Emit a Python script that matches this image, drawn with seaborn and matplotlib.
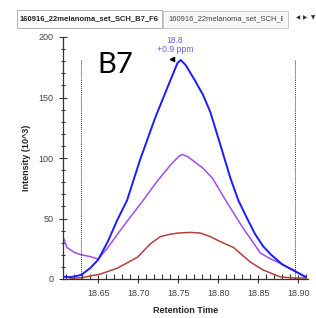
import matplotlib
matplotlib.use("Agg")
import matplotlib.pyplot as plt
import matplotlib.patches as mpatches
import numpy as np
import pandas as pd
import seaborn as sns

# retention time / intensity (10^3)
rt_blue = [18.606, 18.614, 18.620, 18.629, 18.640, 18.650, 18.662, 18.674, 18.686,
           18.702, 18.721, 18.7375, 18.749, 18.753, 18.759, 18.770, 18.781, 18.790,
           18.8025, 18.815, 18.825, 18.836, 18.846, 18.856, 18.866, 18.880, 18.894, 18.909]
blue = [2, 1.5, 2, 3.5, 9, 16, 31, 49, 65,
        98, 133, 160, 178.5, 181, 177, 165, 152, 138,
        111, 83.5, 65, 50, 37, 27, 20, 12, 7, 1.7]

rt_purple = [18.606, 18.611, 18.620, 18.629, 18.640, 18.650, 18.662, 18.674, 18.6875,
             18.705, 18.725, 18.740, 18.750, 18.755, 18.762, 18.780, 18.7925, 18.811,
             18.830, 18.8525, 18.864, 18.874, 18.894, 18.909]
purple = [35, 26, 22, 20, 18.5, 16.5, 26, 37, 49,
          64, 82, 94, 101, 103, 101, 92, 83.5, 63,
          43, 21.5, 17, 14, 7.4, 1.7]

rt_red = [18.615, 18.629, 18.640, 18.6525, 18.674, 18.699, 18.715, 18.7275, 18.740,
          18.750, 18.765, 18.7775, 18.790, 18.799, 18.819, 18.840, 18.856, 18.8775,
          18.895, 18.910]
red = [0.5, 1, 2.5, 4, 9, 18, 29, 35, 37,
       38, 38.5, 38, 35, 32, 26, 14, 7.4, 1.7,
       0.8, 0.8]

boundaries = [18.629, 18.896]
boundary_top = 181
peak_rt, peak_int = 18.742, 182
peak_label = "18.8\n+0.9 ppm"
tab_titles = ["160916_22melanoma_set_SCH_B7_F6", "160916_22melanoma_set_SCH_B7"]

sns.set_theme(style="ticks")
plt.rcParams["font.family"] = ["Liberation Sans", "DejaVu Sans"]

fig = plt.figure(figsize=(3.16, 3.18), dpi=100)
ax = fig.add_axes([63 / 316, 39 / 318, 245 / 316, 242 / 318])

series = [
    (rt_red, red, "#b2403b", 1.1),
    (rt_purple, purple, "#9d4ff0", 1.1),
    (rt_blue, blue, "#1c1cff", 1.4),
]
for rt, vals, col, lw in series:
    df = pd.DataFrame({"rt": rt, "intensity": vals})
    sns.lineplot(data=df, x="rt", y="intensity", color=col, linewidth=lw,
                 ax=ax, sort=False, estimator=None)

for b in boundaries:
    ax.vlines(b, 0, boundary_top, colors="#333333", linestyles=(0, (1, 1)), linewidth=0.7)

ax.plot([peak_rt], [peak_int], marker="<", color="black", markersize=3)
ax.text(18.746, 186, peak_label, ha="center", va="bottom", fontsize=6.2,
        color="#6a5cf2", linespacing=1.0)

ax.set_xlim(18.606, 18.912)
ax.set_ylim(0, 200)
ax.set_xticks([18.65, 18.70, 18.75, 18.80, 18.85, 18.90])
ax.set_xticklabels(["18.65", "18.70", "18.75", "18.80", "18.85", "18.90"])
ax.set_xticks(np.arange(18.61, 18.915, 0.01), minor=True)
ax.set_yticks([0, 50, 100, 150, 200])
ax.set_yticks(np.arange(0, 201, 10), minor=True)
ax.tick_params(axis="both", which="major", direction="inout", length=6, width=0.8,
               labelsize=6.5, labelcolor="#444444", color="#333333", pad=4)
ax.tick_params(axis="both", which="minor", direction="inout", length=3.5, width=0.8,
               color="#333333")
ax.tick_params(axis="x", which="minor", direction="in")
sns.despine(ax=ax)
for s in ["left", "bottom"]:
    ax.spines[s].set_color("#333333")
    ax.spines[s].set_linewidth(0.9)

ax.set_xlabel("Retention Time", fontsize=6.5, fontweight="bold", labelpad=6)
ax.set_ylabel("Intensity (10^3)", fontsize=6.5, fontweight="bold", labelpad=5)

fig.text(97 / 316, (318 - 73) / 318, "B7", fontsize=21, family=["Lato", "DejaVu Sans"],
         ha="left", va="baseline", color="black")

# tab strip at the top
fig.add_artist(mpatches.Rectangle((163 / 316, (318 - 28) / 318), 125 / 316, 17 / 318,
                                  transform=fig.transFigure, facecolor="#f7f7f7",
                                  edgecolor="#c8c8c8", linewidth=0.7))
fig.add_artist(mpatches.Rectangle((17 / 316, (318 - 28) / 318), 145 / 316, 18 / 318,
                                  transform=fig.transFigure, facecolor="white",
                                  edgecolor="#b0b0b0", linewidth=0.7))
fig.text(89 / 316, (318 - 19) / 318, tab_titles[0], fontsize=5.5, fontweight="bold",
         ha="center", va="center", color="#222222")
t2 = fig.text(168 / 316, (318 - 19) / 318, tab_titles[1], fontsize=5.5,
              ha="left", va="center", color="#444444")
t2.set_clip_on(True)
t2.set_clip_box(matplotlib.transforms.Bbox.from_extents(160, 0, 283, 318))
fig.text(298 / 316, (318 - 18) / 318, "\u25c0", fontsize=4, ha="center", va="center",
         family="DejaVu Sans", color="#333333")
fig.text(305 / 316, (318 - 18) / 318, "\u25b6", fontsize=4, ha="center", va="center",
         family="DejaVu Sans", color="#333333")
fig.text(313 / 316, (318 - 18) / 318, "\u25bc", fontsize=4, ha="center", va="center",
         family="DejaVu Sans", color="#333333")

fig.savefig("out.png", dpi=100)
